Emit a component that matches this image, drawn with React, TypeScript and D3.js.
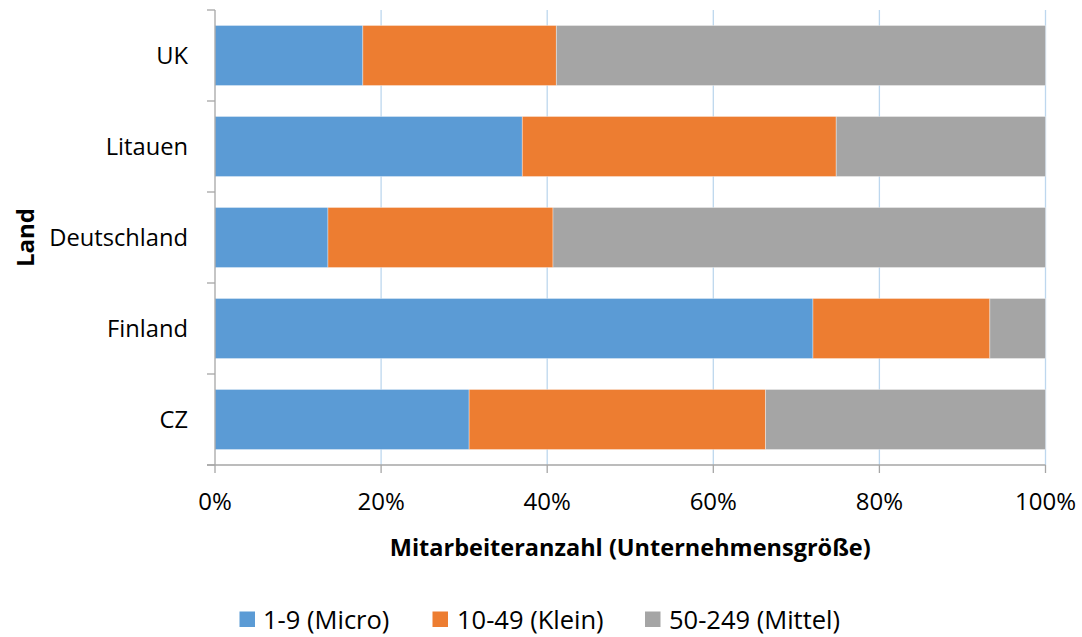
import React from "react";
import * as d3 from "d3";

const countries = ["UK", "Litauen", "Deutschland", "Finland", "CZ"];
const micro = [17.8, 37.0, 13.6, 72.0, 30.6];
const klein = [23.3, 37.8, 27.1, 21.3, 35.7];
const mittel = [58.9, 25.2, 59.3, 6.7, 33.7];
const seriesNames = ["1-9 (Micro)", "10-49 (Klein)", "50-249 (Mittel)"];
const seriesColors = ["#5b9bd5", "#ed7d31", "#a5a5a5"];
const xTicks = [0, 20, 40, 60, 80, 100];

const W = 1082;
const H = 637;
const FONT = "'Open Sans', 'Noto Sans', sans-serif";

export default function App() {
  const margin = { left: 215, right: 1082 - 1045.5, top: 10, bottom: 637 - 465 };
  const x = d3.scaleLinear().domain([0, 100]).range([margin.left, W - margin.right]);
  const y = d3
    .scaleBand<string>()
    .domain(countries)
    .range([margin.top, H - margin.bottom])
    .paddingInner(0.34)
    .paddingOuter(0.17);
  const bandStep = y.step();
  const rows = countries.map((c, i) => ({ country: c, s0: micro[i], s1: klein[i], s2: mittel[i] }));
  const stack = d3.stack<any>().keys(["s0", "s1", "s2"]);
  const layers = stack(rows);
  const axisColor = "#a6a6a6";
  const gridColor = "#bdd7ee";
  const y0 = margin.top;
  const y1 = H - margin.bottom;
  const catTicks = d3.range(countries.length + 1).map((i) => y0 + i * bandStep);

  const legendItems = [
    { sq: 239.5, tx: 263 },
    { sq: 432.5, tx: 457 },
    { sq: 645, tx: 669 },
  ];

  return (
    <svg
      width={W}
      height={H}
      style={{ position: "absolute", left: 0, top: 0, background: "#fff" }}
      fontFamily={FONT}
    >
      <rect width={W} height={H} fill="#fff" />
      {xTicks.slice(1).map((t) => (
        <line key={t} x1={x(t)} x2={x(t)} y1={y0} y2={y1} stroke={gridColor} strokeWidth={1.3} />
      ))}
      {layers.map((layer, li) =>
        layer.map((d, di) => (
          <rect
            key={li + "-" + di}
            x={x(d[0])}
            y={y(countries[di])!}
            width={x(d[1]) - x(d[0])}
            height={y.bandwidth()}
            fill={seriesColors[li]}
            stroke="#ffffff"
            strokeOpacity={0.45}
            strokeWidth={0.8}
          />
        ))
      )}
      <line x1={x(0)} x2={x(0)} y1={y0} y2={y1} stroke={axisColor} strokeWidth={1.3} />
      {catTicks.map((t, i) => (
        <line key={i} x1={x(0) - 8} x2={x(0)} y1={t} y2={t} stroke={axisColor} strokeWidth={1.3} />
      ))}
      <line x1={x(0) - 8} x2={x(100)} y1={y1} y2={y1} stroke={axisColor} strokeWidth={1.3} />
      {xTicks.map((t) => (
        <line key={t} x1={x(t)} x2={x(t)} y1={y1} y2={y1 + 8} stroke={axisColor} strokeWidth={1.3} />
      ))}
      {xTicks.map((t) => (
        <text key={"l" + t} x={x(t)} y={510} textAnchor="middle" fontSize={24} fill="#000">
          {t + "%"}
        </text>
      ))}
      {countries.map((c) => (
        <text
          key={c}
          x={188}
          y={y(c)! + y.bandwidth() / 2 + 8}
          textAnchor="end"
          fontSize={23.7}
          fill="#000"
        >
          {c}
        </text>
      ))}
      <text
        x={(x(0) + x(100)) / 2}
        y={547}
        textAnchor="middle"
        dominantBaseline="central"
        fontSize={23.5}
        fontWeight="bold"
        fill="#000"
      >
        Mitarbeiteranzahl (Unternehmensgröße)
      </text>
      <text
        transform={`translate(24, ${(y0 + y1) / 2}) rotate(-90)`}
        textAnchor="middle"
        dominantBaseline="central"
        fontSize={24}
        fontWeight="bold"
        fill="#000"
      >
        Land
      </text>
      {seriesNames.map((n, i) => (
        <g key={n}>
          <rect x={legendItems[i].sq} y={611.5} width={15.5} height={15.5} fill={seriesColors[i]} />
          <text x={legendItems[i].tx} y={628.5} fontSize={25.5} fill="#000">
            {n}
          </text>
        </g>
      ))}
    </svg>
  );
}
